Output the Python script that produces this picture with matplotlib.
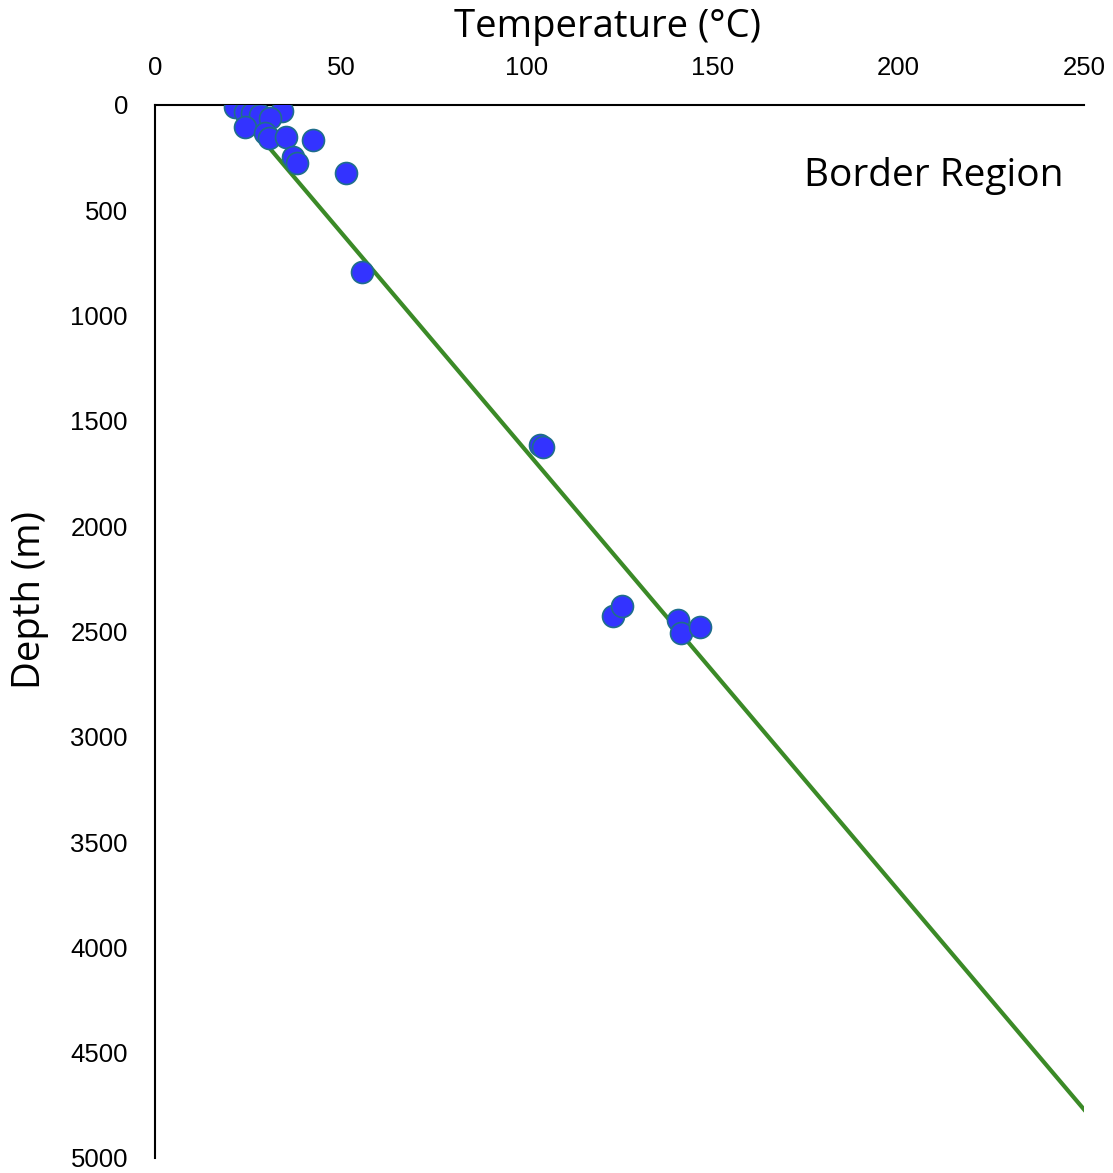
import matplotlib
matplotlib.use('Agg')
import matplotlib.pyplot as plt

# measured temperatures (°C) and depths (m)
temps = [21.5, 24.2, 26.0, 28.3, 34.1, 24.2, 30.9, 29.6, 30.8, 35.3, 42.6,
         37.2, 38.1, 51.4, 55.7, 103.6, 104.3, 123.2, 125.6, 140.8, 141.5, 146.7]
depths = [9, 33, 40, 47, 27, 103, 63, 133, 158, 153, 166,
          248, 274, 324, 793, 1614, 1622, 2426, 2379, 2445, 2509, 2480]

# geothermal gradient trend line
fit_temps = [21, 250]
fit_depths = [0, 4770]

x_ticks = [0, 50, 100, 150, 200, 250]
y_ticks = [0, 500, 1000, 1500, 2000, 2500, 3000, 3500, 4000, 4500, 5000]

plt.rcParams['font.family'] = ['Liberation Sans', 'DejaVu Sans']
label_font = ['Open Sans', 'DejaVu Sans']

fig = plt.figure(figsize=(11.13, 11.73), dpi=100)
ax = fig.add_axes([0.1393, 0.0128, 0.8347, 0.8977])

ax.plot(fit_temps, fit_depths, color='#3b8a27', linewidth=3, zorder=2)
ax.scatter(temps, depths, s=250, color='#3333ff', edgecolors='#1f6e8c',
           linewidths=1.2, zorder=3)

ax.set_xlim(0, 250)
ax.set_ylim(5000, 0)
ax.set_xticks(x_ticks)
ax.set_yticks(y_ticks)
ax.xaxis.tick_top()
ax.xaxis.set_label_position('top')
ax.tick_params(axis='both', length=0, labelsize=18.5)
ax.tick_params(axis='x', pad=18)
ax.tick_params(axis='y', pad=19.5)

for side in ['right', 'bottom']:
    ax.spines[side].set_visible(False)
for side in ['top', 'left']:
    ax.spines[side].set_linewidth(1.5)
    ax.spines[side].set_color('black')

ax.set_xlabel('Temperature (°C)', fontsize=27.5, family=label_font, va='center')
ax.set_ylabel('Depth (m)', fontsize=27.5, family=label_font, va='center')
ax.xaxis.set_label_coords(0.4865, 1.074)
ax.yaxis.set_label_coords(-0.1345, 0.53)

ax.text(0.978, 0.9326, 'Border Region', transform=ax.transAxes, ha='right', va='center',
        fontsize=28, family=label_font)

fig.savefig('out.png', dpi=100)
